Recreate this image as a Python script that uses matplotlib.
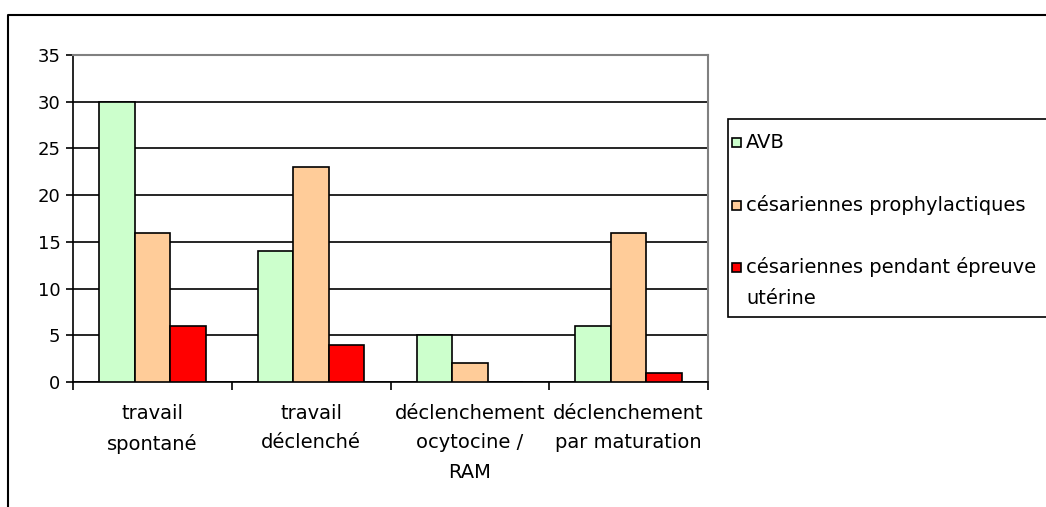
import matplotlib
matplotlib.use('Agg')
from matplotlib import pyplot as plt
from matplotlib.patches import Rectangle
from matplotlib.lines import Line2D
import numpy as np

plt.rcParams['font.family'] = ['DejaVu Sans']

# data
categories = ['travail\nspontané', 'travail\ndéclenché', 'déclenchement\nocytocine /\nRAM', 'déclenchement\npar maturation']
series_names = ['AVB', 'césariennes prophylactiques', 'césariennes pendant épreuve\nutérine']
avb = [30, 14, 5, 6]
prophylactiques = [16, 23, 2, 16]
epreuve = [6, 4, 0, 1]
colors = ['#CCFFCC', '#FFCC99', '#FF0000']

W, H = 1046, 507
fig = plt.figure(figsize=(W / 100, H / 100), dpi=100)

# outer chart border (only left and top are in frame)
fig.add_artist(Line2D([8 / W, 8 / W, 1.01], [-0.01, 1 - 15 / H, 1 - 15 / H],
                      transform=fig.transFigure, color='black', lw=1.5))

ax = fig.add_axes([73 / W, 1 - 382 / H, (708 - 73) / W, (382 - 55) / H])

x = np.arange(len(categories))
bw = 0.224
for i, vals in enumerate([avb, prophylactiques, epreuve]):
    ax.bar(x + (i - 1) * bw, vals, width=bw, color=colors[i], edgecolor='black', linewidth=1.2, zorder=3)

ax.set_xlim(-0.5, len(categories) - 0.5)
ax.set_ylim(0, 35)
ax.set_yticks(range(0, 36, 5))
ax.yaxis.grid(True, color='black', linewidth=1.2, zorder=0)
ax.tick_params(axis='y', labelsize=13, length=5, width=1.2, direction='out', pad=4)

# ticks between categories, labels in the middle
ax.set_xticks(np.arange(-0.5, len(categories), 1.0))
ax.set_xticklabels([])
ax.set_xticks(x, minor=True)
ax.set_xticklabels(categories, minor=True, fontsize=14, linespacing=1.7)
ax.tick_params(axis='x', which='major', length=6, width=1.2, direction='out')
ax.tick_params(axis='x', which='minor', length=0, pad=15.5)

for s in ['top', 'right']:
    ax.spines[s].set_color('#808080')
    ax.spines[s].set_linewidth(1.5)
ax.spines['left'].set_linewidth(1.2)
ax.spines['bottom'].set_linewidth(1.2)

# legend box, drawn by hand
fig.add_artist(Rectangle((728 / W, 1 - 317 / H), 0.4, (317 - 119) / H, transform=fig.transFigure,
                         facecolor='white', edgecolor='black', lw=1.2))
ys = [142, 205, 267]
for name, c, yy in zip(series_names, colors, ys):
    fig.add_artist(Rectangle((732 / W, 1 - (yy + 4.5) / H), 9 / W, 9 / H, transform=fig.transFigure,
                             facecolor=c, edgecolor='black', lw=1.2))
    lines = name.split('\n')
    for k, ln in enumerate(lines):
        fig.text(746 / W, 1 - (yy + 31 * k) / H, ln, fontsize=14, va='center', ha='left')

fig.savefig('out.png', dpi=100, facecolor='white')
